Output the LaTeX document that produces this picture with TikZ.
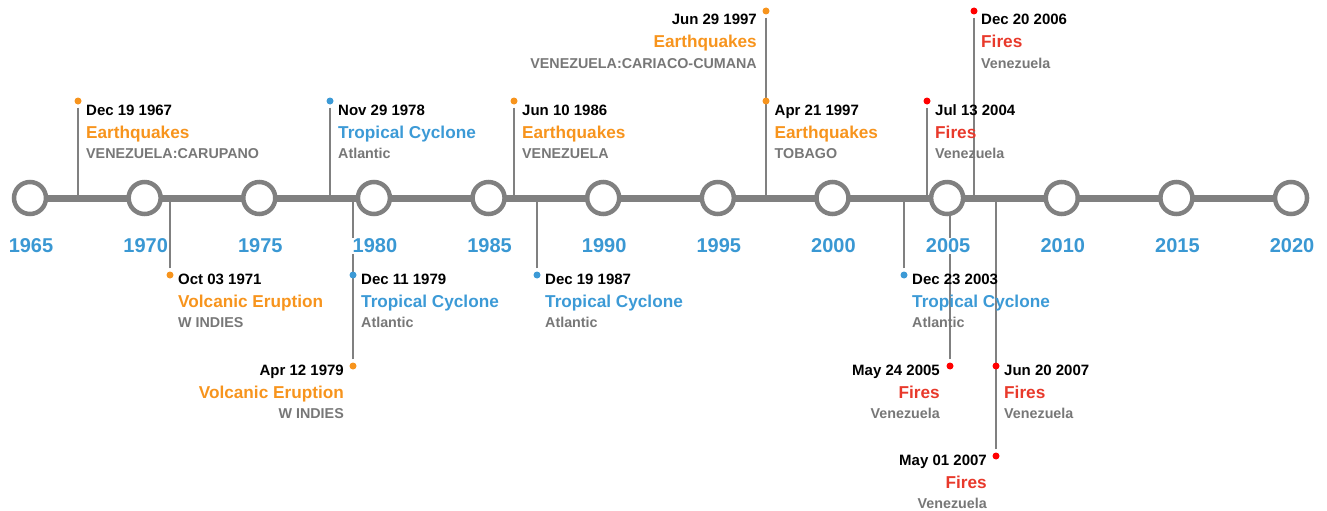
\documentclass[tikz,border=0pt]{standalone}
\usepackage{fontspec}
\setmainfont{Liberation Sans}
\usepackage{tikz}
\usetikzlibrary{positioning, calc, backgrounds}
\definecolor{tlgray}{HTML}{808080}
\definecolor{placegray}{HTML}{777777}
\definecolor{yearblue}{HTML}{3A98D3}
\definecolor{quakeorange}{HTML}{F7941D}
\definecolor{cyclblue}{HTML}{3C9AD6}
\definecolor{firered}{HTML}{E8392B}
\definecolor{dotred}{HTML}{FF0000}

\begin{document}
\begin{tikzpicture}[
    x=1pt, y=-1pt,
    axisline/.style={draw=tlgray, line width=7pt},
    yearring/.style={circle, draw=tlgray, line width=4.5pt, fill=white, minimum size=32pt, inner sep=0pt},
    yearlabel/.style={fill=white, inner sep=1pt, text=yearblue, font=\fontsize{20}{20}\selectfont\bfseries},
    stem/.style={draw=tlgray, line width=2.5pt, shorten <=3pt},
    dot/.style={circle, inner sep=0pt, minimum size=7pt},
    date/.style={inner sep=0pt, text=black, font=\fontsize{15}{15}\selectfont\bfseries},
    kind/.style={inner sep=0pt, font=\fontsize{17.2}{18}\selectfont\bfseries},
    place/.style={inner sep=0pt, text=placegray, font=\fontsize{14.3}{15}\selectfont\bfseries}
]
\useasboundingbox (0,0) rectangle (1327,511);

% Years on the axis
\foreach \yr [count=\i from 0] in {1965,1970,...,2020} {
  \node[yearring] (y\yr) at (30+114.64*\i, 198) {};
  \node[yearlabel] (l\yr) at (31+114.64*\i, 246) {\yr};
}

% Above the axis
\node[dot, fill=quakeorange] (d67) at (78,101) {};
\node[date, anchor=base west] (t67) at ([xshift=8pt,yshift=-14pt]d67.center) {Dec 19 1967};
\node[kind, text=quakeorange, anchor=base west] (k67) at ([yshift=-23pt]t67.base west) {Earthquakes};
\node[place, anchor=base west] (p67) at ([yshift=-20pt]k67.base west) {VENEZUELA:CARUPANO};

\node[dot, fill=cyclblue] (d78) at (330,101) {};
\node[date, anchor=base west] (t78) at ([xshift=8pt,yshift=-14pt]d78.center) {Nov 29 1978};
\node[kind, text=cyclblue, anchor=base west] (k78) at ([yshift=-23pt]t78.base west) {Tropical Cyclone};
\node[place, anchor=base west] (p78) at ([yshift=-20pt]k78.base west) {Atlantic};

\node[dot, fill=quakeorange] (d86) at (514,101) {};
\node[date, anchor=base west] (t86) at ([xshift=8pt,yshift=-14pt]d86.center) {Jun 10 1986};
\node[kind, text=quakeorange, anchor=base west] (k86) at ([yshift=-23pt]t86.base west) {Earthquakes};
\node[place, anchor=base west] (p86) at ([yshift=-20pt]k86.base west) {VENEZUELA};

\node[dot, fill=quakeorange] (d97j) at (766,11) {};
\node[date, anchor=base east] (t97j) at ([xshift=-9pt,yshift=-14pt]d97j.center) {Jun 29 1997};
\node[kind, text=quakeorange, anchor=base east] (k97j) at ([yshift=-23pt]t97j.base east) {Earthquakes};
\node[place, anchor=base east] (p97j) at ([yshift=-20pt]k97j.base east) {VENEZUELA:CARIACO-CUMANA};

\node[dot, fill=quakeorange] (d97a) at (766,101) {};
\node[date, anchor=base west] (t97a) at ([xshift=8.5pt,yshift=-14pt]d97a.center) {Apr 21 1997};
\node[kind, text=quakeorange, anchor=base west] (k97a) at ([yshift=-23pt]t97a.base west) {Earthquakes};
\node[place, anchor=base west] (p97a) at ([yshift=-20pt]k97a.base west) {TOBAGO};

\node[dot, fill=dotred] (d04) at (927,101) {};
\node[date, anchor=base west] (t04) at ([xshift=8pt,yshift=-14pt]d04.center) {Jul 13 2004};
\node[kind, text=firered, anchor=base west] (k04) at ([yshift=-23pt]t04.base west) {Fires};
\node[place, anchor=base west] (p04) at ([yshift=-20pt]k04.base west) {Venezuela};

\node[dot, fill=dotred] (d06) at (974,11) {};
\node[date, anchor=base west] (t06) at ([xshift=7pt,yshift=-14pt]d06.center) {Dec 20 2006};
\node[kind, text=firered, anchor=base west] (k06) at ([yshift=-23pt]t06.base west) {Fires};
\node[place, anchor=base west] (p06) at ([yshift=-20pt]k06.base west) {Venezuela};

% Below the axis
\node[dot, fill=quakeorange] (d71) at (170,275) {};
\node[date, anchor=base west] (t71) at ([xshift=8pt,yshift=-9pt]d71.center) {Oct 03 1971};
\node[kind, text=quakeorange, anchor=base west] (k71) at ([yshift=-23pt]t71.base west) {Volcanic Eruption};
\node[place, anchor=base west] (p71) at ([yshift=-20pt]k71.base west) {W INDIES};

\node[dot, fill=cyclblue] (d79c) at (353,275) {};
\node[date, anchor=base west] (t79c) at ([xshift=8pt,yshift=-9pt]d79c.center) {Dec 11 1979};
\node[kind, text=cyclblue, anchor=base west] (k79c) at ([yshift=-23pt]t79c.base west) {Tropical Cyclone};
\node[place, anchor=base west] (p79c) at ([yshift=-20pt]k79c.base west) {Atlantic};

\node[dot, fill=quakeorange] (d79v) at (353,366) {};
\node[date, anchor=base east] (t79v) at ([xshift=-9pt,yshift=-9pt]d79v.center) {Apr 12 1979};
\node[kind, text=quakeorange, anchor=base east] (k79v) at ([yshift=-23pt]t79v.base east) {Volcanic Eruption};
\node[place, anchor=base east] (p79v) at ([yshift=-20pt]k79v.base east) {W INDIES};

\node[dot, fill=cyclblue] (d87) at (537,275) {};
\node[date, anchor=base west] (t87) at ([xshift=8pt,yshift=-9pt]d87.center) {Dec 19 1987};
\node[kind, text=cyclblue, anchor=base west] (k87) at ([yshift=-23pt]t87.base west) {Tropical Cyclone};
\node[place, anchor=base west] (p87) at ([yshift=-20pt]k87.base west) {Atlantic};

\node[dot, fill=cyclblue] (d03) at (904,275) {};
\node[date, anchor=base west] (t03) at ([xshift=8pt,yshift=-9pt]d03.center) {Dec 23 2003};
\node[kind, text=cyclblue, anchor=base west] (k03) at ([yshift=-23pt]t03.base west) {Tropical Cyclone};
\node[place, anchor=base west] (p03) at ([yshift=-20pt]k03.base west) {Atlantic};

\node[dot, fill=dotred] (d05) at (950,366) {};
\node[date, anchor=base east] (t05) at ([xshift=-10pt,yshift=-9pt]d05.center) {May 24 2005};
\node[kind, text=firered, anchor=base east] (k05) at ([yshift=-23pt]t05.base east) {Fires};
\node[place, anchor=base east] (p05) at ([yshift=-20pt]k05.base east) {Venezuela};

\node[dot, fill=dotred] (d07j) at (996,366) {};
\node[date, anchor=base west] (t07j) at ([xshift=8pt,yshift=-9pt]d07j.center) {Jun 20 2007};
\node[kind, text=firered, anchor=base west] (k07j) at ([yshift=-23pt]t07j.base west) {Fires};
\node[place, anchor=base west] (p07j) at ([yshift=-20pt]k07j.base west) {Venezuela};

\node[dot, fill=dotred] (d07m) at (996,456) {};
\node[date, anchor=base east] (t07m) at ([xshift=-9pt,yshift=-9pt]d07m.center) {May 01 2007};
\node[kind, text=firered, anchor=base east] (k07m) at ([yshift=-23pt]t07m.base east) {Fires};
\node[place, anchor=base east] (p07m) at ([yshift=-20pt]k07m.base east) {Venezuela};

% Axis and stems go behind circles and year labels
\begin{scope}[on background layer]
\draw[axisline] (y1965.center) -- (y2020.center);
\foreach \ev in {d67,d78,d86,d97j,d04,d06,d71,d79v,d87,d03,d05,d07m}
  \draw[stem] (\ev) -- (\ev |- y1965.center);
\end{scope}

\end{tikzpicture}
\end{document}
